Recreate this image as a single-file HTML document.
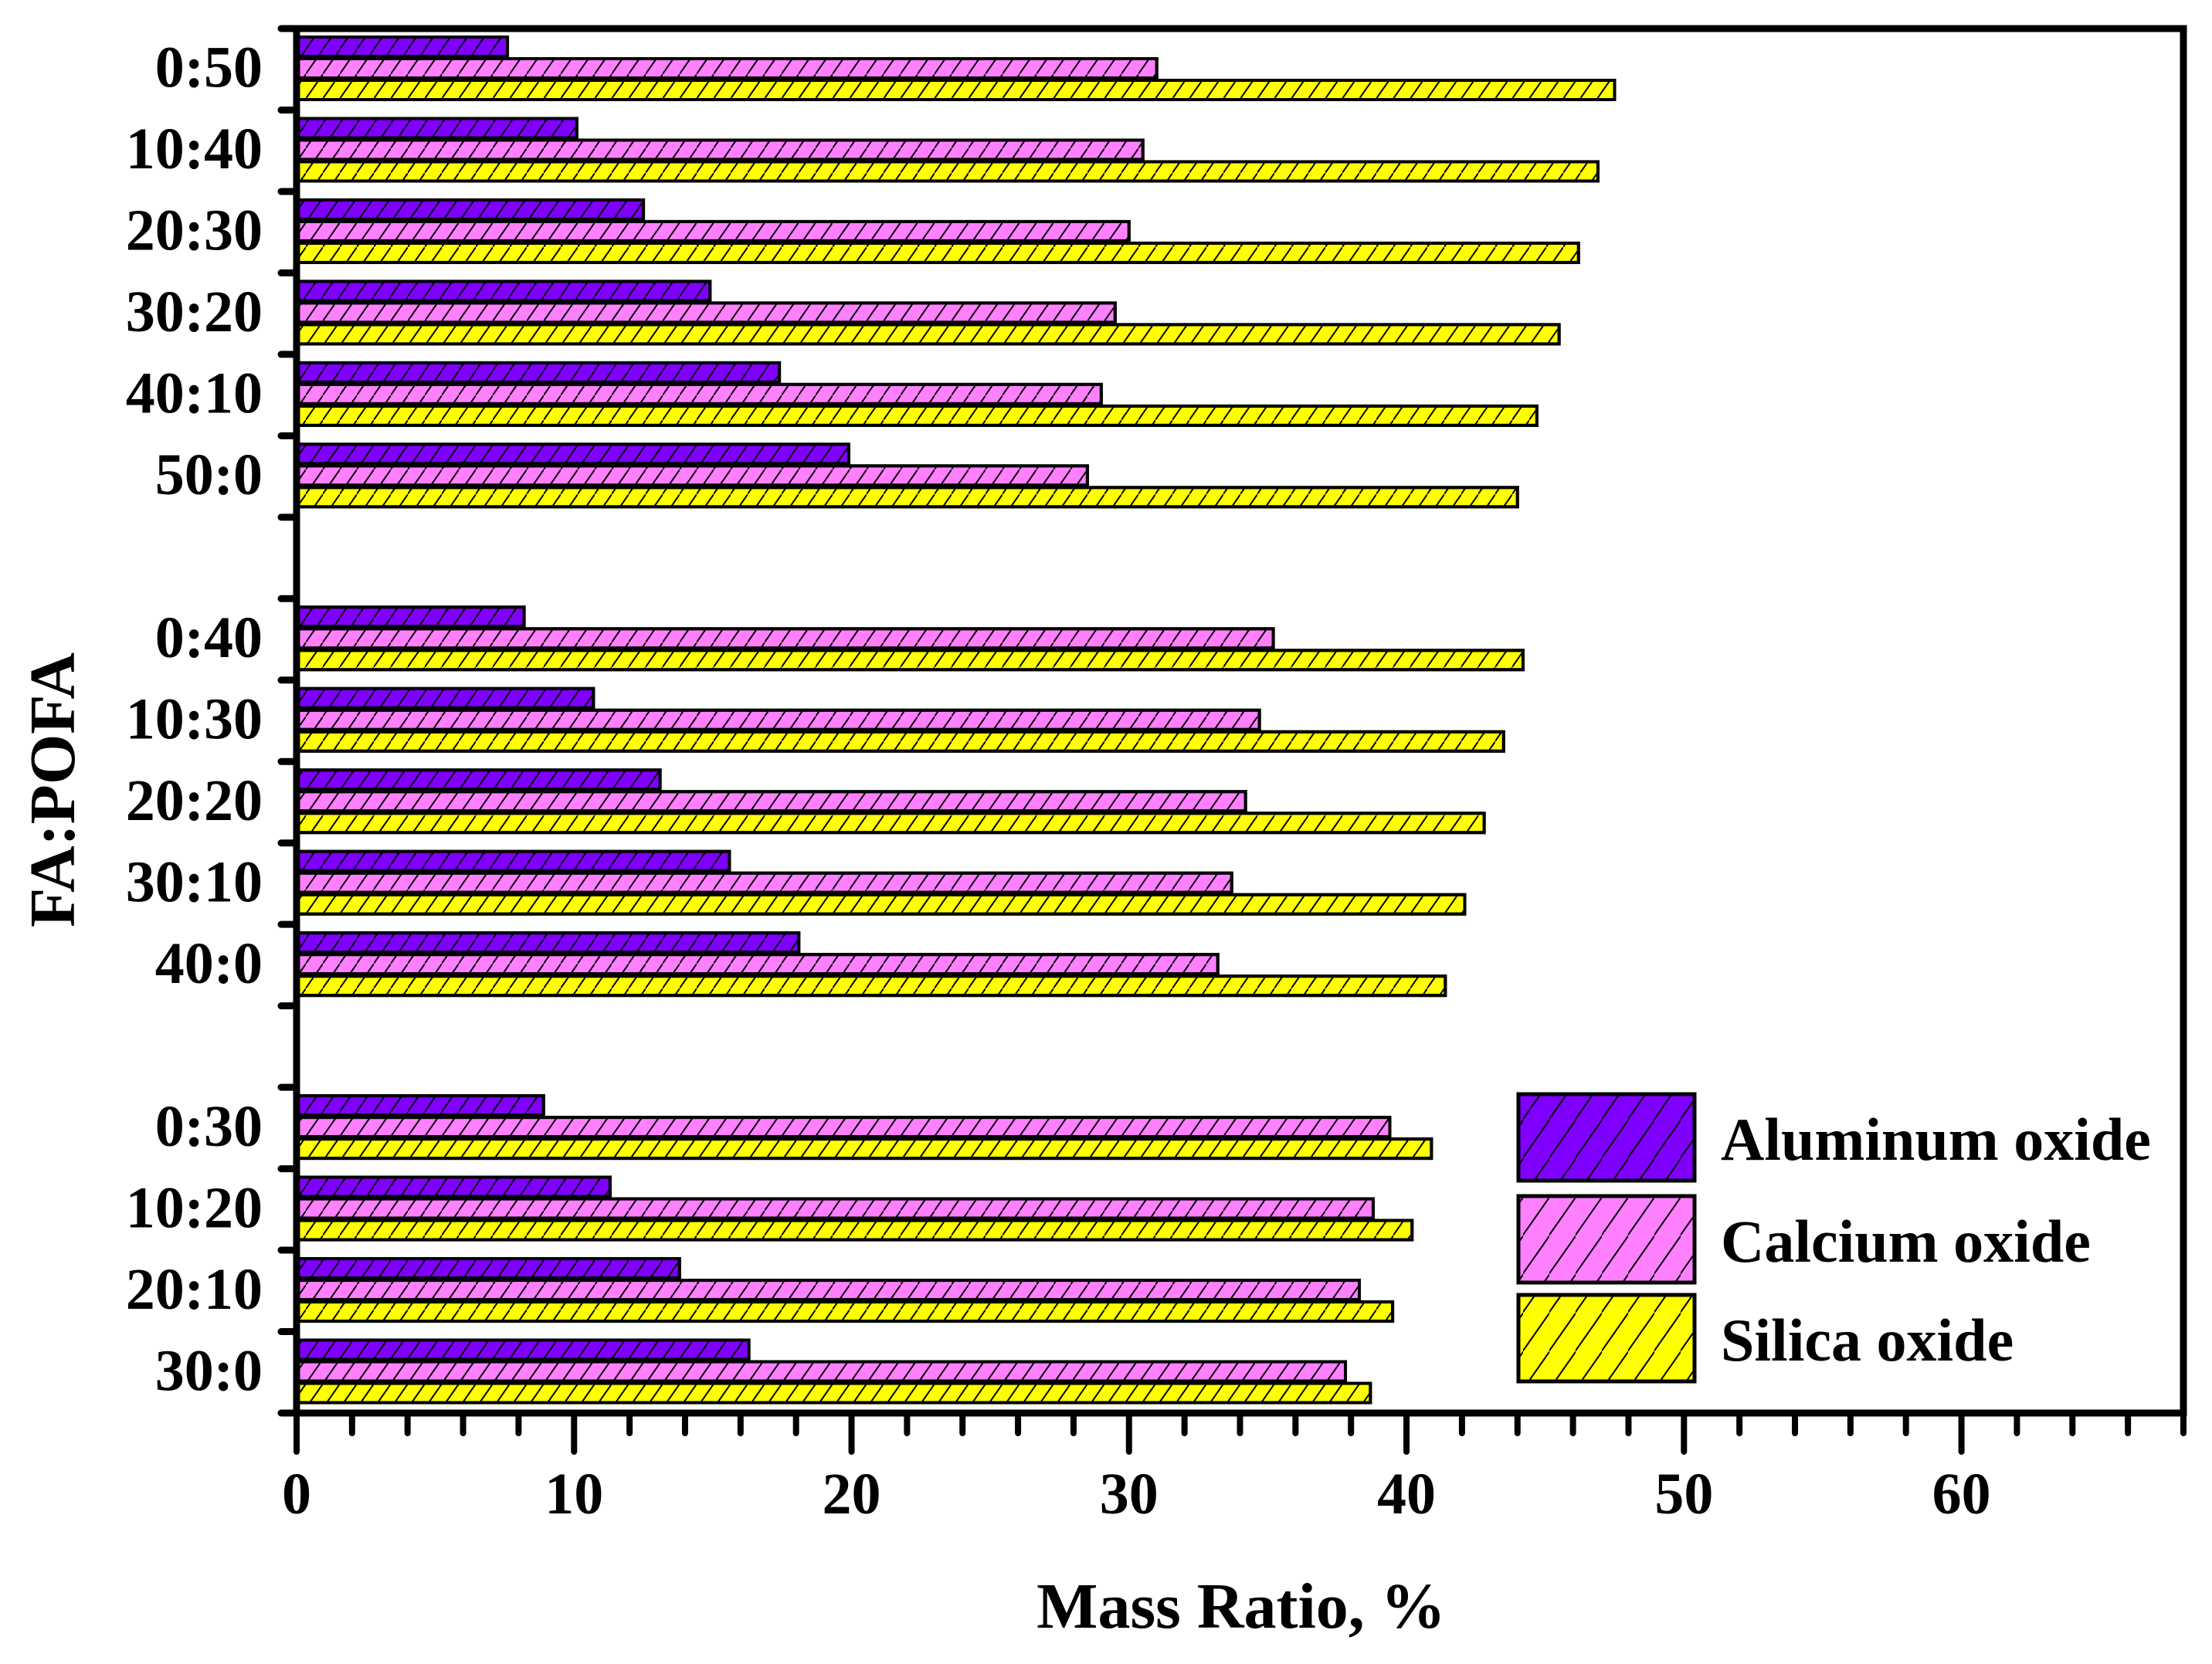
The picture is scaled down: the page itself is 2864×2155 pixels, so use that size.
<!DOCTYPE html>
<html><head><meta charset="utf-8"><style>
html,body{margin:0;padding:0;background:#fff;}
svg{display:block;}
text{font-family:"Liberation Serif",serif;font-weight:bold;fill:#000;}
</style></head><body>
<svg id="chart" width="2864" height="2155" viewBox="0 0 2864 2155" xmlns="http://www.w3.org/2000/svg">
<defs>
<pattern id="hatch" patternUnits="userSpaceOnUse" width="22" height="32">
<line x1="-3" y1="36" x2="25" y2="-4" stroke="#000" stroke-width="2"/>
</pattern>
<pattern id="hatchL" patternUnits="userSpaceOnUse" width="34" height="50">
<line x1="-4" y1="55" x2="38" y2="-5" stroke="#000" stroke-width="2"/>
</pattern>
</defs>
<g id="bars"></g>
<g id="axes"></g>
<g id="legend"></g>
</svg>
<script>
const categories = ["0:50","10:40","20:30","30:20","40:10","50:0","","0:40","10:30","20:20","30:10","40:0","","0:30","10:20","20:10","30:0"];
const aluminum = [7.6,10.1,12.5,14.9,17.4,19.9,null,8.2,10.7,13.1,15.6,18.1,null,8.9,11.3,13.8,16.3];
const calcium  = [31.0,30.5,30.0,29.5,29.0,28.5,null,35.2,34.7,34.2,33.7,33.2,null,39.4,38.8,38.3,37.8];
const silica   = [47.5,46.9,46.2,45.5,44.7,44.0,null,44.2,43.5,42.8,42.1,41.4,null,40.9,40.2,39.5,38.7];
const xTicks = [0,10,20,30,40,50,60];
const seriesNames = ["Aluminum oxide","Calcium oxide","Silica oxide"];
const seriesColors = ["#8000ff","#ff80ff","#ffff00"];

const NS="http://www.w3.org/2000/svg";
const L=384,R=2827,T=37,B=1830,XMAX=68;
const slotH=(B-T)/categories.length;
function xs(v){return L+v*(R-L)/XMAX;}
function mk(tag,attrs,parent){const e=document.createElementNS(NS,tag);for(const k in attrs)e.setAttribute(k,attrs[k]);parent.appendChild(e);return e;}
const gB=document.getElementById('bars'),gA=document.getElementById('axes'),gL=document.getElementById('legend');
const series=[aluminum,calcium,silica];
const offs=[11,39,67];
series.forEach((s,si)=>{
  s.forEach((v,i)=>{
    if(v===null)return;
    const y=T+i*slotH+offs[si];
    const w=xs(v)-L;
    const r=mk('rect',{x:L,y:y,width:w,height:25,fill:seriesColors[si],stroke:'#000','stroke-width':4},gB);
    
    
    const h=mk('rect',{x:L,y:y,width:w,height:25,fill:'url(#hatch)',stroke:'#000','stroke-width':4},gB);
    
    
  });
});
const fr=mk('rect',{x:L,y:T,width:R-L,height:B-T,fill:'none',stroke:'#000','stroke-width':9},gA);


for(let i=0;i<=categories.length;i++){
  const y=T+i*slotH;
  const t=mk('line',{x1:L-20,y1:y,x2:L,y2:y,stroke:'#000','stroke-width':9,'stroke-linecap':'round'},gA);
  
  
  if(i<categories.length&&categories[i]){
    const tx=mk('text',{x:340,y:y+slotH/2+23,'font-size':76,'text-anchor':'end'},gA);
    tx.textContent=categories[i];
    
    
  }
}
for(let v=0;v<=XMAX;v+=2){
  const major=v%10===0;
  const x=xs(v);
  const t=mk('line',{x1:x,y1:B,x2:x,y2:B+(major?50:26),stroke:'#000','stroke-width':8,'stroke-linecap':'round'},gA);
  
  
}
xTicks.forEach(v=>{
  const tx=mk('text',{x:xs(v),y:1960,'font-size':76,'text-anchor':'middle'},gA);
  tx.textContent=String(v);
  
  
});
const xt=mk('text',{x:1607,y:2108,'font-size':84,'text-anchor':'middle'},gA);
xt.textContent="Mass Ratio, %";


const yt=mk('text',{x:0,y:0,'font-size':84,'text-anchor':'middle',transform:'translate(96,1023) rotate(-90)'},gA);
yt.textContent="FA:POFA";


const ly=[1417,1549,1677];
seriesNames.forEach((n,i)=>{
  const r=mk('rect',{x:1966,y:ly[i],width:228,height:112,fill:seriesColors[i],stroke:'#000','stroke-width':5},gL);
  
  
  const h=mk('rect',{x:1966,y:ly[i],width:228,height:112,fill:'url(#hatchL)',stroke:'#000','stroke-width':5},gL);
  
  
  const t=mk('text',{x:2228,y:ly[i]+85,'font-size':78},gL);
  t.textContent=n;
  
  
});
</script>
</body></html>
